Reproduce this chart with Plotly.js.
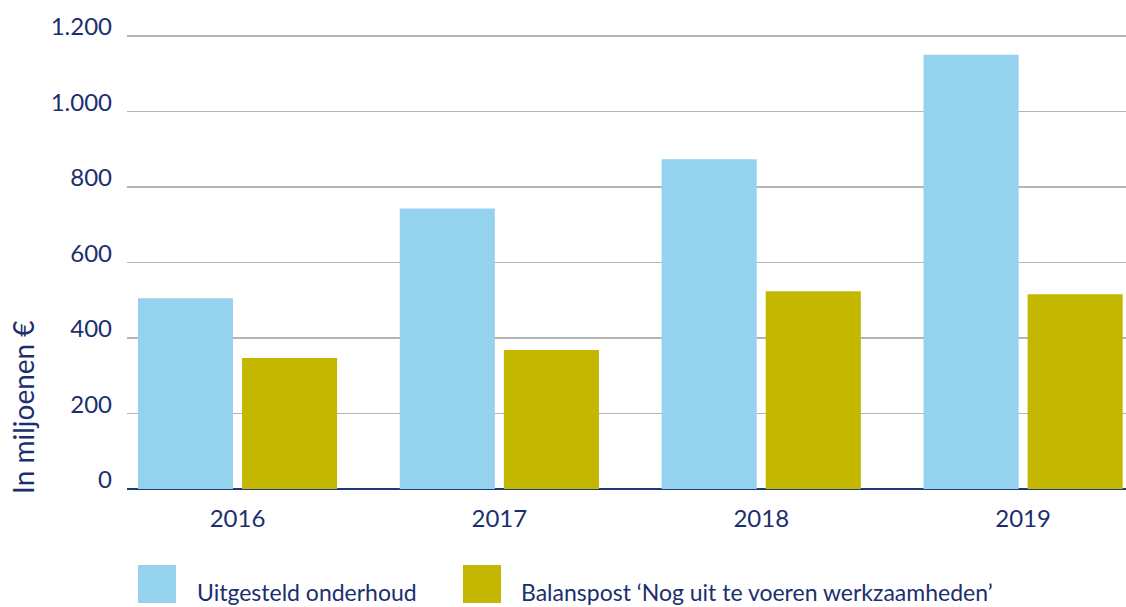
<!DOCTYPE html>
<html><head><meta charset="utf-8">
<script src="https://cdn.plot.ly/plotly-3.0.1.min.js"></script>
<style>html,body{margin:0;padding:0;background:#fff}#c{width:1126px;height:607px}</style>
</head><body><div id="c"></div>
<script>
const years = ['2016','2017','2018','2019'];
const uitgesteld = [505, 743, 873, 1150];
const balanspost = [347, 368, 524, 516];
const seriesNames = ['Uitgesteld onderhoud', 'Balanspost \u2018Nog uit te voeren werkzaamheden\u2019'];
const seriesColors = ['#95D2EE', '#C3B700'];
const yTicks = [0, 200, 400, 600, 800, 1000, 1200];
const yTickText = ['0', '200', '400', '600', '800', '1.000', '1.200'];

const navy = '#1B2F6E';
const font = 'Lato, "Open Sans", sans-serif';

const traces = [
  {type:'bar', x: years, y: uitgesteld, name: seriesNames[0], marker:{color: seriesColors[0]}, hoverinfo:'none'},
  {type:'bar', x: years, y: balanspost, name: seriesNames[1], marker:{color: seriesColors[1]}, hoverinfo:'none'}
];

const layout = {
  width: 1126, height: 607,
  margin: {l:127, r:0, t:17, b:118},
  paper_bgcolor:'#fff', plot_bgcolor:'#fff',
  showlegend:false,
  barmode:'group', bargap:0.205, bargroupgap:0.0865,
  font:{family:font, color:navy, size:24},
  xaxis:{type:'category', range:[-0.422, 3.393], showgrid:false, zeroline:false,
    showline:false, ticks:'', ticklabelstandoff:13, tickfont:{size:24, color:navy}},
  yaxis:{range:[0, 1250], tickvals:yTicks, ticktext:yTickText, showgrid:true,
    gridcolor:'#B4B4B4', gridwidth:1.5, zeroline:true, zerolinecolor:'#1F3A78', zerolinewidth:2,
    showline:false, ticks:'', ticklabelstandoff:14, ticklabelshift:-9, tickfont:{size:24, color:navy}},
  shapes:[
    {type:'rect', xref:'paper', yref:'paper', x0:(138-127)/999, x1:(176-127)/999, y0:-(565-489)/472, y1:-(603-489)/472, fillcolor:seriesColors[0], line:{width:0}},
    {type:'rect', xref:'paper', yref:'paper', x0:(463-127)/999, x1:(501-127)/999, y0:-(565-489)/472, y1:-(603-489)/472, fillcolor:seriesColors[1], line:{width:0}}
  ],
  annotations:[
    {xref:'paper', yref:'paper', x:(195-127)/999, y:-(592-489)/472, xanchor:'left', yanchor:'middle', text:seriesNames[0], showarrow:false, font:{size:23, color:navy}},
    {xref:'paper', yref:'paper', x:(519-127)/999, y:-(592-489)/472, xanchor:'left', yanchor:'middle', text:seriesNames[1], showarrow:false, font:{size:23, color:navy}},
    {xref:'paper', yref:'paper', x:-(127-23)/999, y:-(407-489)/472, xanchor:'center', yanchor:'middle', textangle:-90, text:'In miljoenen \u20AC', showarrow:false, font:{size:28, color:navy}}
  ]
};

Plotly.newPlot('c', traces, layout, {displayModeBar:false, staticPlot:true});
</script>
</body></html>
